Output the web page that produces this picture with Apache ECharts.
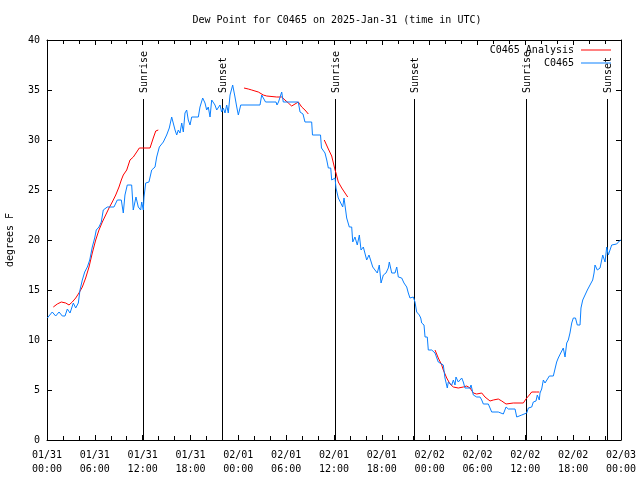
<!DOCTYPE html>
<html>
<head>
<meta charset="utf-8">
<script src="https://cdn.jsdelivr.net/npm/echarts@6/dist/echarts.min.js"></script>
<style>html,body{margin:0;padding:0;background:#fff}#c{width:640px;height:480px}</style>
</head>
<body>
<div id="c"></div>
<script>
// hours since 2025-01-31 00:00 UTC
const blueTime = [0.04,0.66,1.09,1.51,1.92,2.26,2.55,2.89,3.30,3.60,3.93,4.14,4.43,4.73,5.06,5.36,5.68,5.98,6.18,6.52,6.81,7.06,7.56,8.40,8.82,9.32,9.57,9.78,10.07,10.62,10.82,11.16,11.45,11.75,11.88,12.08,12.17,12.38,12.79,13.13,13.55,13.76,14.09,14.59,15.01,15.34,15.64,15.84,16.06,16.27,16.47,16.68,16.90,17.10,17.31,17.52,17.72,17.94,18.15,18.98,19.19,19.53,19.82,20.03,20.23,20.45,20.66,21.07,21.29,21.70,21.91,22.12,22.33,22.54,22.74,22.96,23.29,23.58,23.80,24.00,24.30,26.72,26.93,27.13,27.41,27.72,28.73,28.85,29.04,29.23,29.44,29.64,31.52,31.74,32.11,32.36,33.20,33.30,34.31,34.43,34.87,35.09,35.29,35.59,35.71,35.91,36.13,36.25,36.54,36.75,37.09,37.26,37.47,37.59,37.92,38.22,38.35,38.63,38.92,39.18,39.39,39.68,39.89,40.10,40.39,40.61,40.86,41.14,41.43,41.68,41.90,42.19,42.52,42.81,42.94,43.24,43.65,43.87,44.07,44.49,44.78,45.12,45.32,45.53,45.95,46.16,46.37,46.70,46.88,47.00,47.29,47.42,47.70,47.83,48.26,48.46,48.67,49.08,49.71,49.92,50.21,50.34,50.55,50.77,50.97,51.18,51.30,51.59,51.81,52.02,52.22,52.43,53.06,53.19,53.48,53.90,54.32,54.53,54.73,55.36,55.57,55.78,56.61,56.82,57.24,57.58,57.87,58.71,58.92,59.12,59.55,59.75,60.17,60.38,60.80,61.00,61.34,61.50,61.75,61.84,62.05,62.26,62.47,62.72,63.01,63.51,63.72,63.93,64.13,64.44,64.76,64.98,65.19,65.39,65.60,65.82,66.02,66.29,66.52,66.86,66.98,67.20,67.49,67.78,68.11,68.45,68.62,68.74,69.03,69.37,69.71,70.00,70.21,70.41,70.83,71.46,71.79,72.00];
const blueDew = [12.2,12.8,12.4,12.8,12.4,12.4,13.1,12.7,13.7,13.2,13.7,15.0,16.0,16.8,17.3,18.0,19.3,20.2,21.0,21.3,21.8,23.0,23.3,23.3,24.0,24.0,22.7,24.5,25.5,25.5,23.0,24.3,23.3,23.0,23.8,23.0,24.3,25.7,25.8,27.0,27.3,28.3,29.3,29.8,30.5,31.2,32.3,32.5,31.0,30.5,31.0,30.7,31.7,30.8,32.7,33.0,32.0,31.5,32.3,32.3,33.3,34.2,33.7,33.0,33.3,32.3,34.0,33.5,33.0,33.5,32.8,33.2,32.7,33.5,32.7,34.5,35.5,34.3,33.3,32.5,33.5,33.5,34.5,34.6,33.8,33.8,33.8,33.5,33.8,34.0,34.8,33.8,33.8,32.8,32.6,31.8,31.8,30.5,30.5,29.2,28.7,28.0,27.2,27.2,26.0,26.0,26.2,25.2,24.2,24.2,23.3,24.2,24.2,22.2,21.3,21.3,19.8,20.3,19.5,20.5,19.0,19.3,19.5,18.0,18.5,18.3,17.3,17.0,16.7,17.5,15.7,16.5,16.7,17.2,17.8,16.7,16.7,17.3,16.3,16.2,15.7,15.3,14.7,14.2,14.3,13.8,12.8,12.5,12.2,11.7,11.5,10.3,10.3,9.0,9.0,9.2,8.7,7.8,7.5,6.2,5.2,5.8,5.8,5.5,6.0,5.5,6.3,5.8,5.8,6.2,5.8,5.2,5.2,5.5,4.5,4.3,4.3,4.0,3.6,3.6,3.8,2.8,2.8,2.6,2.6,3.3,3.1,3.1,2.3,2.4,2.5,2.7,2.7,3.2,3.3,3.8,3.9,4.5,4.0,4.7,5.1,6.0,5.7,5.5,6.4,6.4,7.1,7.8,8.2,8.7,9.2,8.3,9.7,10.0,10.7,11.7,12.2,12.2,11.5,11.5,13.2,14.0,14.5,15.0,15.5,16.0,16.7,17.5,17.0,17.2,18.5,17.8,19.3,18.5,19.5,19.6,19.9,20.0];

const anaTime1 = [0.79,1.29,1.79,2.35,2.76,3.17,3.60,4.01,4.43,4.85,5.27,5.68,6.11,6.52,6.94,7.36,7.78,8.19,8.62,9.03,9.32,9.57,10.00,10.41,10.83,11.25,11.58,12.92,13.33,13.64,13.96];
const anaDew1  = [13.3,13.6,13.8,13.7,13.5,13.8,14.2,14.7,15.3,16.2,17.3,18.7,20.0,21.0,21.8,22.5,23.2,23.8,24.5,25.3,26.0,26.5,27.0,28.0,28.3,28.8,29.2,29.2,30.2,30.9,31.0];
const anaTime2 = [24.71,25.25,25.68,26.09,26.51,27.13,27.56,28.81,29.44,29.85,30.27,30.69,31.11,31.52,31.95,32.36,32.78];
const anaDew2  = [35.2,35.1,35.0,34.9,34.8,34.5,34.4,34.3,34.3,34.0,33.7,33.4,33.6,33.8,33.3,33.0,32.6];
const anaTime3 = [34.78,35.29,35.71,36.13,36.25,36.54,36.97,37.38,37.72];
const anaDew3  = [30.0,29.1,28.4,27.0,26.7,25.8,25.2,24.7,24.3];
const anaTime4 = [48.67,49.08,49.51,49.71,50.14,50.55,50.97,51.59,52.22,52.65,53.06,53.48,53.90,54.53,54.94,55.57,55.98,56.61,57.04,57.58,58.49,59.75,60.08,60.50,60.80,61.00,61.43,61.75];
const anaDew4  = [9.0,8.2,7.5,7.0,6.2,5.6,5.3,5.2,5.3,5.4,5.2,4.7,4.6,4.7,4.3,3.9,4.0,4.1,3.9,3.6,3.7,3.7,4.1,4.5,4.8,4.9,4.8,4.8];

const eventTime  = [12.08, 21.98, 36.13, 46.05, 60.08, 70.20];
const eventLabel = ['Sunrise','Sunset','Sunrise','Sunset','Sunrise','Sunset'];

const xDates = ['01/31','02/01','02/02','02/03'];
const xHours = ['00:00','06:00','12:00','18:00'];

const FONT = 'DejaVu Sans Mono';
const zip = (a, b) => a.map((v, i) => [v, b[i]]);

const chart = echarts.init(document.getElementById('c'), null, {renderer: 'canvas'});
const axisCommon = {
  type: 'value', min: 0, max: 72, interval: 6,
  axisLine: {show: true, onZero: false, lineStyle: {color: '#000', width: 1}},
  axisTick: {show: true, inside: true, length: 5, lineStyle: {color: '#000'}},
  minorTick: {show: true, splitNumber: 3, length: 4, lineStyle: {color: '#000'}},
  splitLine: {show: false}, minorSplitLine: {show: false}
};
const yCommon = {
  type: 'value', min: 0, max: 40, interval: 5,
  axisLine: {show: true, onZero: false, lineStyle: {color: '#000', width: 1}},
  axisTick: {show: true, inside: true, length: 5, lineStyle: {color: '#000'}},
  splitLine: {show: false}
};
const redSeg = (t, d) => ({
  type: 'line', name: 'C0465 Analysis', data: zip(t, d), symbol: 'none',
  lineStyle: {color: '#ff0000', width: 1}, itemStyle: {color: '#ff0000'},
  xAxisIndex: 0, yAxisIndex: 0, z: 3
});
const legendCommon = {
  right: 29, itemWidth: 30, itemHeight: 1, icon: 'rect', align: 'right', selectedMode: false,
  padding: 0, textStyle: {fontFamily: FONT, fontSize: 10, color: '#000', padding: [0, 2, 0, 0]}
};
chart.setOption({
  animation: false,
  backgroundColor: '#fff',
  title: {
    text: 'Dew Point for C0465 on 2025-Jan-31 (time in UTC)',
    left: 332, textAlign: 'center', top: 10,
    textStyle: {fontFamily: FONT, fontSize: 10, fontWeight: 'normal', color: '#000'}
  },
  legend: [
    Object.assign({}, legendCommon, {data: ['C0465 Analysis'], top: 45}),
    Object.assign({}, legendCommon, {data: ['C0465'], top: 58})
  ],
  grid: {left: 47, right: 19, top: 40, bottom: 40, containLabel: false, outerBoundsMode: 'none'},
  xAxis: [
    Object.assign({}, axisCommon, {
      position: 'bottom',
      axisLabel: {
        fontFamily: FONT, fontSize: 10, color: '#000', margin: 8, lineHeight: 14,
        formatter: v => xDates[Math.floor(v / 24)] + '\n' + xHours[Math.round((v % 24) / 6)]
      }
    }),
    Object.assign({}, axisCommon, {position: 'top', axisLabel: {show: false}})
  ],
  yAxis: [
    Object.assign({}, yCommon, {
      position: 'left', name: 'degrees F', nameLocation: 'middle', nameGap: 32,
      nameTextStyle: {fontFamily: FONT, fontSize: 10, color: '#000'},
      axisLabel: {fontFamily: FONT, fontSize: 10, color: '#000', margin: 7}
    }),
    Object.assign({}, yCommon, {position: 'right', axisLabel: {show: false}})
  ],
  series: [
    {
      type: 'custom', name: 'events', silent: true, z: 1,
      data: eventTime.map(t => [t, 0]),
      renderItem: function (params, api) {
        const h = api.value(0);
        const top = api.coord([h, 34.1]);
        const bot = api.coord([h, 0]);
        const x = Math.round(top[0]) + 0.5;
        return {
          type: 'group',
          children: [
            {type: 'line', shape: {x1: x, y1: top[1], x2: x, y2: bot[1]},
             style: {stroke: '#000', lineWidth: 1}},
            {type: 'text', x: x + 1, y: top[1] - 6, rotation: Math.PI / 2,
             style: {text: eventLabel[params.dataIndex], fontFamily: FONT, fontSize: 10,
                     fill: '#000', align: 'left', verticalAlign: 'middle'}}
          ]
        };
      }
    },
    redSeg(anaTime1, anaDew1),
    redSeg(anaTime2, anaDew2),
    redSeg(anaTime3, anaDew3),
    redSeg(anaTime4, anaDew4),
    {
      type: 'line', name: 'C0465', data: zip(blueTime, blueDew), symbol: 'none',
      lineStyle: {color: '#0a80ff', width: 1}, itemStyle: {color: '#0a80ff'}, z: 4
    }
  ]
});
</script>
</body>
</html>
